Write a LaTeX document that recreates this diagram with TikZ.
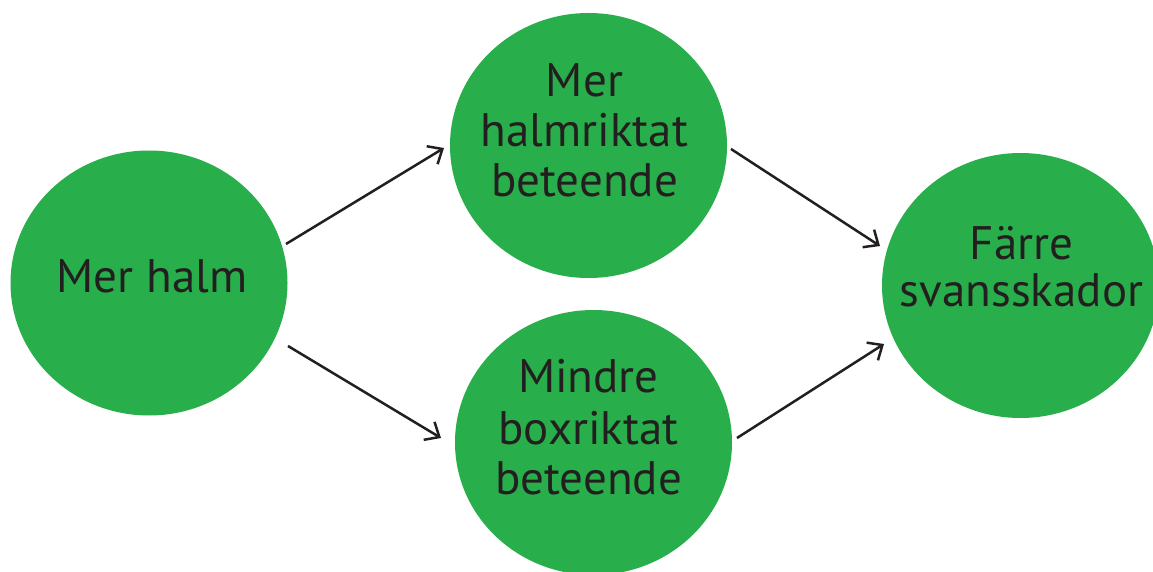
\documentclass[tikz,border=0pt]{standalone}
\usepackage{fontspec}
\setmainfont{PT Sans}
\usetikzlibrary{shapes.geometric,arrows.meta}
\definecolor{leafgreen}{RGB}{40,174,74}
\definecolor{inkgray}{RGB}{35,31,32}
\tikzset{
  bubble/.style={ellipse, fill=leafgreen, draw=none, minimum width=277pt, minimum height=265pt, inner sep=0pt},
  txt/.style={anchor=base, inner sep=0pt, text=inkgray, font=\fontsize{47}{50}\selectfont},
  conn/.style={draw=inkgray, line width=2.5pt, -{Straight Barb[length=12pt,width=21pt,line width=2.5pt]}}
}
\begin{document}
\begin{tikzpicture}[x=1pt,y=1pt]
\useasboundingbox (0,0) rectangle (1153,571);
\clip (0,0) rectangle (1153,571);
\node[bubble] (L) at (149,288) {};
\node[bubble] (T) at (588.5,425.5) {};
\node[bubble] (B) at (593.5,128.5) {};
\node[bubble] (R) at (1020.5,285.5) {};
\node[txt] (Lt) at (152,278.3) {Mer halm};
\node[txt] (Tt1) at (584.5,474.3) {Mer};
\node[txt] (Tt2) at (584.5,424.3) {halmriktat};
\node[txt] (Tt3) at (584.5,374.3) {beteende};
\node[txt] (Bt1) at (588.5,178.3) {Mindre};
\node[txt] (Bt2) at (588.5,127) {boxriktat};
\node[txt] (Bt3) at (588.5,76.7) {beteende};
\node[txt] (Rt1) at (1021.5,311.7) {Färre};
\node[txt] (Rt2) at (1021.5,264.3) {svansskador};
\coordinate (a1s) at (286,327);
\coordinate (a1e) at (444,423);
\coordinate (a2s) at (288,225);
\coordinate (a2e) at (441,133);
\coordinate (a3s) at (731,422);
\coordinate (a3e) at (880,325);
\coordinate (a4s) at (737,133);
\coordinate (a4e) at (884,227);
\draw[conn] (a1s) -- (a1e);
\draw[conn] (a2s) -- (a2e);
\draw[conn] (a3s) -- (a3e);
\draw[conn] (a4s) -- (a4e);
\end{tikzpicture}
\end{document}
